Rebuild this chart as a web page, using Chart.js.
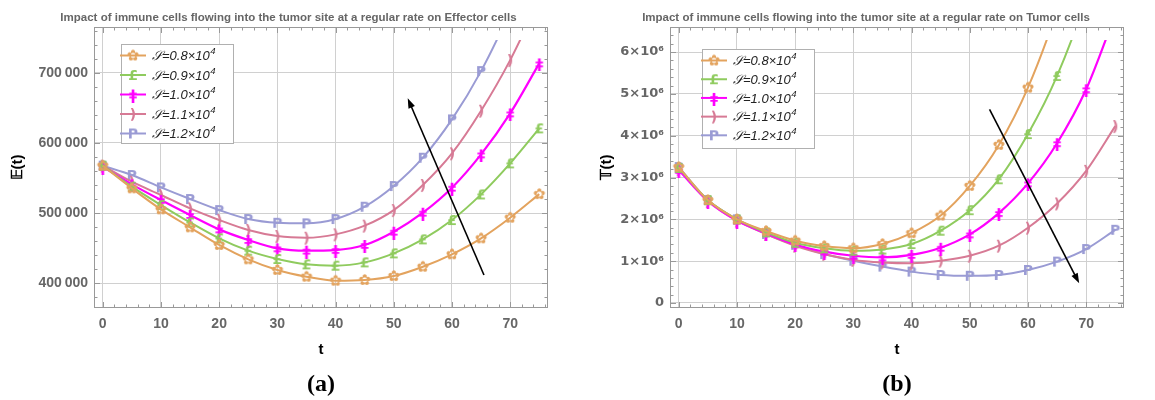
<!DOCTYPE html>
<html>
<head>
<meta charset="utf-8">
<script src="https://cdn.jsdelivr.net/npm/chart.js@4.4.1/dist/chart.umd.min.js"></script>
<style>
  body { margin: 0; background: #fff; width: 1155px; height: 400px; overflow: hidden; }
  .box { position: absolute; top: 0; height: 400px; }
  #boxA { left: 0; width: 577px; }
  #boxB { left: 577px; width: 578px; }
</style>
</head>
<body>
<div class="box" id="boxA"><canvas id="chartA"></canvas></div>
<div class="box" id="boxB"><canvas id="chartB"></canvas></div>
<script>
// time points (markers every 5 units)
var times = [0, 5, 10, 15, 20, 25, 30, 35, 40, 45, 50, 55, 60, 65, 70, 75];
var sValues = ['0.8', '0.9', '1.0', '1.1', '1.2'];
var colors = ['#e3a35e', '#8fcb5e', '#ff00ff', '#d77a95', '#9a9bd4'];
var glyphs = ['\u273F', '\u00A3', '\u01C2', ')', 'P'];

// tick values
var tTicks = [0, 10, 20, 30, 40, 50, 60, 70];
var effTicks = [400000, 500000, 600000, 700000];
var tumTicks = [0, 1000000, 2000000, 3000000, 4000000, 5000000, 6000000];

// (a) effector cells E(t)
var effS08 = [567600, 535200, 505200, 479500, 454300, 433800, 418600, 409000, 403300, 404300, 410000, 423300, 441000, 463800, 493300, 527000];
var effS09 = [567600, 537600, 511400, 486600, 463800, 446200, 434300, 426700, 424800, 429500, 442400, 462400, 490000, 526600, 570900, 620900];
var effS10 = [566100, 540900, 518500, 497100, 476600, 461400, 449500, 446200, 447100, 454300, 473300, 500400, 536100, 583700, 642300, 713700];
var effS11 = [567600, 544700, 525700, 506600, 490000, 475700, 467100, 464700, 469500, 481900, 504200, 540000, 585200, 646100, 718400, 805000];
var effS12 = [567600, 554200, 536600, 520000, 504200, 491400, 486000, 485200, 491400, 509000, 538500, 579000, 633700, 702700, 788000, 885000];

// (b) tumor cells T(t)
var tumS08 = [3250000, 2460000, 2000000, 1720000, 1490000, 1360000, 1310000, 1410000, 1670000, 2090000, 2800000, 3780000, 5150000, 7000000, 9300000, 12000000];
var tumS09 = [3230000, 2460000, 2000000, 1690000, 1440000, 1310000, 1250000, 1280000, 1410000, 1730000, 2220000, 2960000, 4040000, 5430000, 7300000, 9800000];
var tumS10 = [3180000, 2440000, 1970000, 1670000, 1400000, 1230000, 1130000, 1090000, 1150000, 1320000, 1640000, 2150000, 2860000, 3820000, 5110000, 6900000];
var tumS11 = [3200000, 2440000, 1970000, 1650000, 1370000, 1170000, 1030000, 970000, 950000, 1010000, 1130000, 1370000, 1800000, 2380000, 3160000, 4230000];
var tumS12 = [3250000, 2460000, 2000000, 1650000, 1390000, 1170000, 1010000, 870000, 750000, 670000, 650000, 670000, 790000, 990000, 1290000, 1750000];

// arrows: [tail t, tail value, head t, head value]
var arrowE = [65.5, 411400, 52.4, 663900];
var arrowT = [53.4, 4630000, 68.8, 470000];

Chart.defaults.font.family = '"Liberation Sans", Arial, sans-serif';

function glyphImage(ch, color, withLine) {
  var w = withLine ? 26 : 16, h = 16;
  var c = document.createElement('canvas');
  c.width = w; c.height = h;
  var g = c.getContext('2d');
  if (withLine) {
    g.strokeStyle = color; g.lineWidth = 2;
    g.beginPath(); g.moveTo(0, h / 2); g.lineTo(w, h / 2); g.stroke();
  }
  g.fillStyle = color;
  g.font = (ch === '\u273F' ? '15px' : 'bold 14px') + ' "DejaVu Sans"';
  g.textAlign = 'center';
  g.textBaseline = 'middle';
  g.fillText(ch, w / 2, h / 2 + 1);
  return c;
}

var markers = glyphs.map(function(ch, i) { return glyphImage(ch, colors[i], false); });
var legendMarks = glyphs.map(function(ch, i) { return glyphImage(ch, colors[i], true); });

function makeDatasets(list) {
  return list.map(function(vals, i) {
    return {
      label: sValues[i],
      data: vals.map(function(v, k) { return { x: times[k], y: v }; }),
      borderColor: colors[i],
      backgroundColor: colors[i],
      borderWidth: i === 2 ? 2.2 : 2,
      pointStyle: markers[i],
      pointRadius: 7,
      pointHoverRadius: 7,
      cubicInterpolationMode: 'monotone',
      clip: { left: 0, top: -13, right: 0, bottom: 0 }
    };
  });
}

// Mathematica style frame with inward ticks on all sides
var framePlugin = {
  id: 'frame',
  afterDatasetsDraw: function(chart, args, o) {
    var a = chart.chartArea, ctx = chart.ctx;
    var xs = chart.scales.x, ys = chart.scales.y;
    ctx.save();
    ctx.strokeStyle = '#999';
    ctx.lineWidth = 1;
    ctx.strokeRect(Math.round(a.left) + 0.5, Math.round(a.top) + 0.5,
                   Math.round(a.right - a.left) - 1, Math.round(a.bottom - a.top) - 1);
    ctx.beginPath();
    var v, p, len;
    for (v = Math.ceil(xs.min / o.xMinor) * o.xMinor; v <= xs.max; v += o.xMinor) {
      p = Math.round(xs.getPixelForValue(v)) + 0.5;
      len = Math.abs(v / o.xMajor - Math.round(v / o.xMajor)) < 1e-6 ? 6 : 3.5;
      ctx.moveTo(p, a.bottom); ctx.lineTo(p, a.bottom - len);
      ctx.moveTo(p, a.top); ctx.lineTo(p, a.top + len);
    }
    for (v = Math.ceil(ys.min / o.yMinor) * o.yMinor; v <= ys.max; v += o.yMinor) {
      p = Math.round(ys.getPixelForValue(v)) + 0.5;
      len = Math.abs(v / o.yMajor - Math.round(v / o.yMajor)) < 1e-6 ? 6 : 3.5;
      ctx.moveTo(a.left, p); ctx.lineTo(a.left + len, p);
      ctx.moveTo(a.right, p); ctx.lineTo(a.right - len, p);
    }
    ctx.stroke();

    // arrow
    var ar = o.arrow;
    var x1 = xs.getPixelForValue(ar[0]), y1 = ys.getPixelForValue(ar[1]);
    var x2 = xs.getPixelForValue(ar[2]), y2 = ys.getPixelForValue(ar[3]);
    var ang = Math.atan2(y2 - y1, x2 - x1);
    ctx.strokeStyle = '#000'; ctx.fillStyle = '#000'; ctx.lineWidth = 1.6;
    ctx.beginPath();
    ctx.moveTo(x1, y1);
    ctx.lineTo(x2 - 7 * Math.cos(ang), y2 - 7 * Math.sin(ang));
    ctx.stroke();
    ctx.beginPath();
    ctx.moveTo(x2, y2);
    ctx.lineTo(x2 - 10 * Math.cos(ang) + 3.5 * Math.sin(ang), y2 - 10 * Math.sin(ang) - 3.5 * Math.cos(ang));
    ctx.lineTo(x2 - 10 * Math.cos(ang) - 3.5 * Math.sin(ang), y2 - 10 * Math.sin(ang) + 3.5 * Math.cos(ang));
    ctx.closePath();
    ctx.fill();
    ctx.restore();
  },
  afterDraw: function(chart, args, o) {
    var a = chart.chartArea, ctx = chart.ctx;
    var bx = a.left + o.legendX, by = a.top + o.legendY;
    ctx.save();
    ctx.fillStyle = '#fff';
    ctx.fillRect(bx, by, 112, 99);
    ctx.strokeStyle = '#b0b0b0'; ctx.lineWidth = 1;
    ctx.strokeRect(Math.round(bx) + 0.5, Math.round(by) + 0.5, 112, 99);
    sValues.forEach(function(s, i) {
      var ry = by + 11.5 + i * o.rowStep;
      var img = legendMarks[i];
      ctx.drawImage(img, bx + 12 - img.width / 2, ry - img.height / 2);
      ctx.fillStyle = '#222';
      ctx.textBaseline = 'middle';
      ctx.textAlign = 'left';
      ctx.font = 'italic 13px "Liberation Sans"';
      var txt = '\uD835\uDCAE=' + s + '\u00D710';
      ctx.fillText(txt, bx + 31, ry + 1);
      var w = ctx.measureText(txt).width;
      ctx.font = 'italic 9.5px "Liberation Sans"';
      ctx.fillText('4', bx + 31 + w + 0.5, ry - 4);
    });
    ctx.restore();
  }
};

function fixedTicks(vals) {
  return function(s) { s.ticks = vals.map(function(v) { return { value: v }; }); };
}

function makeChart(id, panel, titleText, yTitle, datasets, yMin, yMax, yTickVals, yFmt, yFont, yWidth, rightPad, yTitlePad, frameOpts) {
  return new Chart(document.getElementById(id), {
    type: 'line',
    data: { datasets: datasets },
    plugins: [framePlugin],
    options: {
      responsive: true,
      maintainAspectRatio: false,
      animation: false,
      layout: { padding: 0 },
      plugins: {
        legend: { display: false },
        tooltip: { enabled: false },
        title: {
          display: true, text: titleText, color: '#666',
          font: { weight: 'bold', size: 11.5 },
          padding: { top: 11, bottom: 2.2 }
        },
        subtitle: {
          display: true, position: 'bottom', fullSize: false, text: panel, color: '#000',
          font: { family: '"Liberation Serif", "Times New Roman", serif', weight: 'bold', size: 24 },
          padding: { top: 2, bottom: 1.2 }
        },
        frame: frameOpts
      },
      scales: {
        x: {
          type: 'linear', position: 'bottom', min: -1.5, max: 76.5,
          afterBuildTicks: fixedTicks(tTicks),
          ticks: { color: '#666', padding: 8, font: { weight: 'bold', size: 14 } },
          grid: { color: '#d0d0d0', drawTicks: false },
          border: { display: false },
          title: { display: true, text: 't', color: '#000', font: { weight: 'bold', size: 15 },
                   padding: { top: 0, bottom: 9 } },
          afterFit: function(s) { s.height = 60; }
        },
        y: {
          type: 'linear', position: 'left', min: yMin, max: yMax,
          afterBuildTicks: fixedTicks(yTickVals),
          ticks: { color: '#666', padding: 6, font: yFont, callback: yFmt },
          grid: { color: '#d0d0d0', drawTicks: false },
          border: { display: false },
          title: { display: true, text: yTitle, color: '#000', font: { weight: 'bold', size: 15 },
                   padding: { top: yTitlePad, bottom: 0 } },
          afterFit: function(s) { s.width = yWidth; }
        },
        yr: {
          type: 'linear', position: 'right', display: true,
          ticks: { display: false }, grid: { display: false }, border: { display: false },
          afterFit: function(s) { s.width = rightPad; }
        }
      }
    }
  });
}

makeChart('chartA', '(a)',
  'Impact of immune cells flowing into the tumor site at a regular rate on Effector cells',
  '\uD835\uDD3C(t)',
  makeDatasets([effS08, effS09, effS10, effS11, effS12]),
  364300, 765700, effTicks,
  function(v) { return String(v).replace(/\B(?=(\d{3})+(?!\d))/g, '\u2009'); },
  { weight: 'bold', size: 14 },
  94, 29, 9,
  { xMinor: 2, xMajor: 10, yMinor: 20000, yMajor: 100000, arrow: arrowE,
    legendX: 27, legendY: 17, rowStep: 19.5 });

makeChart('chartB', '(b)',
  'Impact of immune cells flowing into the tumor site at a regular rate on Tumor cells',
  '\uD835\uDD4B(t)',
  makeDatasets([tumS08, tumS09, tumS10, tumS11, tumS12]),
  -120000, 6600000, tumTicks,
  function(v) { return v === 0 ? '0' : (v / 1000000) + '\u00D710\u2076'; },
  { family: '"DejaVu Sans", sans-serif', weight: 'bold', size: 13 },
  93, 31, 21,
  { xMinor: 2, xMajor: 10, yMinor: 200000, yMajor: 1000000, arrow: arrowT,
    legendX: 32, legendY: 22, rowStep: 18.7 });
</script>
</body>
</html>
